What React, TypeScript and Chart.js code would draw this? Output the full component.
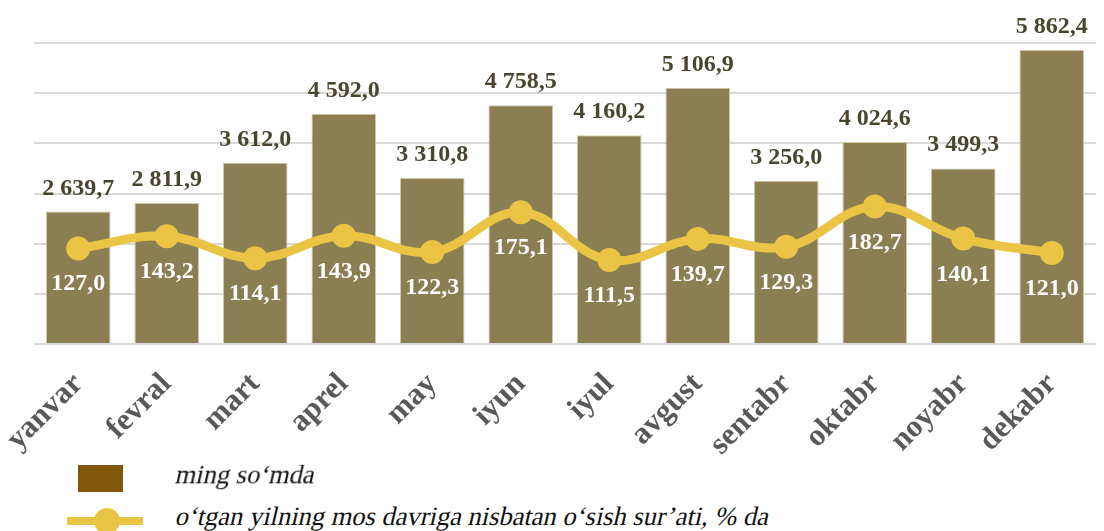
import React, { useEffect, useRef } from "react";
import { Chart, registerables } from "chart.js";

Chart.register(...registerables);

const months = ["yanvar", "fevral", "mart", "aprel", "may", "iyun", "iyul", "avgust", "sentabr", "oktabr", "noyabr", "dekabr"];
const amounts = [2639.7, 2811.9, 3612.0, 4592.0, 3310.8, 4758.5, 4160.2, 5106.9, 3256.0, 4024.6, 3499.3, 5862.4];
const growth = [127.0, 143.2, 114.1, 143.9, 122.3, 175.1, 111.5, 139.7, 129.3, 182.7, 140.1, 121.0];
const amountLabel = "ming so‘mda";
const growthLabel = "o‘tgan yilning mos davriga nisbatan o‘sish sur’ati, % da";

const BAR = "#8B7E52";
const LINE = "#EAC545";
const SERIF = "Liberation Serif";

function fmt(v: number): string {
  const [i, d] = v.toFixed(1).split(".");
  const withSpace = i.replace(/\B(?=(\d{3})+(?!\d))/g, " ");
  return withSpace + "," + d;
}

const labelPlugin = {
  id: "valueLabels",
  afterDatasetsDraw(chart: any) {
    const ctx = chart.ctx;
    ctx.save();
    ctx.font = `bold 24px "${SERIF}"`;
    ctx.textAlign = "center";
    ctx.textBaseline = "alphabetic";
    const barMeta = chart.getDatasetMeta(0);
    barMeta.data.forEach((el: any, i: number) => {
      ctx.fillStyle = "#4B4530";
      ctx.fillText(fmt(amounts[i]), el.x, el.y - 17);
    });
    const lineMeta = chart.getDatasetMeta(1);
    lineMeta.data.forEach((el: any, i: number) => {
      ctx.fillStyle = "#FFFFFF";
      ctx.fillText(fmt(growth[i]), el.x, el.y + 42);
    });
    ctx.restore();
  },
};

const legendText: React.CSSProperties = {
  position: "absolute",
  left: 173,
  fontFamily: `"${SERIF}"`,
  fontSize: 26.5,
  lineHeight: "30px",
  color: "#111",
  whiteSpace: "nowrap",
  transform: "skewX(-13deg)",
  transformOrigin: "left bottom",
};

export default function App() {
  const ref = useRef<HTMLCanvasElement | null>(null);
  useEffect(() => {
    if (!ref.current) return;
    const chart = new Chart(ref.current, {
      type: "bar",
      data: {
        labels: months,
        datasets: [
          {
            type: "bar",
            label: amountLabel,
            data: amounts,
            backgroundColor: BAR,
            borderColor: "#CFC8AA",
            borderWidth: 1,
            barPercentage: 0.73,
            categoryPercentage: 1,
            yAxisID: "y",
            order: 2,
          },
          {
            type: "line",
            label: growthLabel,
            data: growth,
            borderColor: LINE,
            backgroundColor: LINE,
            borderWidth: 9,
            pointRadius: 12,
            pointHoverRadius: 12,
            pointBackgroundColor: LINE,
            pointBorderWidth: 0,
            tension: 0.4,
            yAxisID: "y1",
            order: 1,
          } as any,
        ],
      },
      options: {
        responsive: false,
        animation: false,
        layout: { padding: { left: 34, top: 43, right: 0, bottom: 0 } },
        plugins: { legend: { display: false }, tooltip: { enabled: false } },
        scales: {
          x: {
            grid: { display: false },
            border: { display: false },
            ticks: {
              minRotation: 45,
              maxRotation: 45,
              padding: 14,
              color: "#595959",
              font: { family: SERIF, size: 31, weight: "bold" },
            },
            afterFit: (s: any) => {
              s.height = 116;
              s.paddingLeft = 0;
              s.paddingRight = 0;
            },
          },
          y: {
            min: 0,
            max: 6000,
            ticks: { stepSize: 1000, display: false },
            grid: { color: "#D9D9D9", lineWidth: 2, drawTicks: false },
            border: { display: false },
            afterFit: (s: any) => {
              s.width = 0;
              s.paddingTop = 0;
              s.paddingBottom = 0;
            },
          },
          y1: {
            display: false,
            min: 0,
            max: 400,
            position: "right",
          },
        },
      },
      plugins: [labelPlugin],
    });
    return () => chart.destroy();
  }, []);

  return (
    <div style={{ position: "fixed", left: 0, top: 0, width: 1104, height: 531, overflow: "hidden", background: "#fff" }}>
      <canvas ref={ref} width={1108} height={460} style={{ position: "absolute", left: 0, top: 0, width: 1108, height: 460 }} />
      <div style={{ position: "absolute", left: 78, top: 465, width: 45, height: 27, background: "#80570A" }} />
      <div style={{ ...legendText, top: 459 }}>{amountLabel}</div>
      <div style={{ position: "absolute", left: 67, top: 517, width: 76, height: 8, background: LINE }} />
      <div style={{ position: "absolute", left: 94, top: 508, width: 26, height: 26, borderRadius: 13, background: LINE }} />
      <div style={{ ...legendText, top: 501 }}>{growthLabel}</div>
    </div>
  );
}
